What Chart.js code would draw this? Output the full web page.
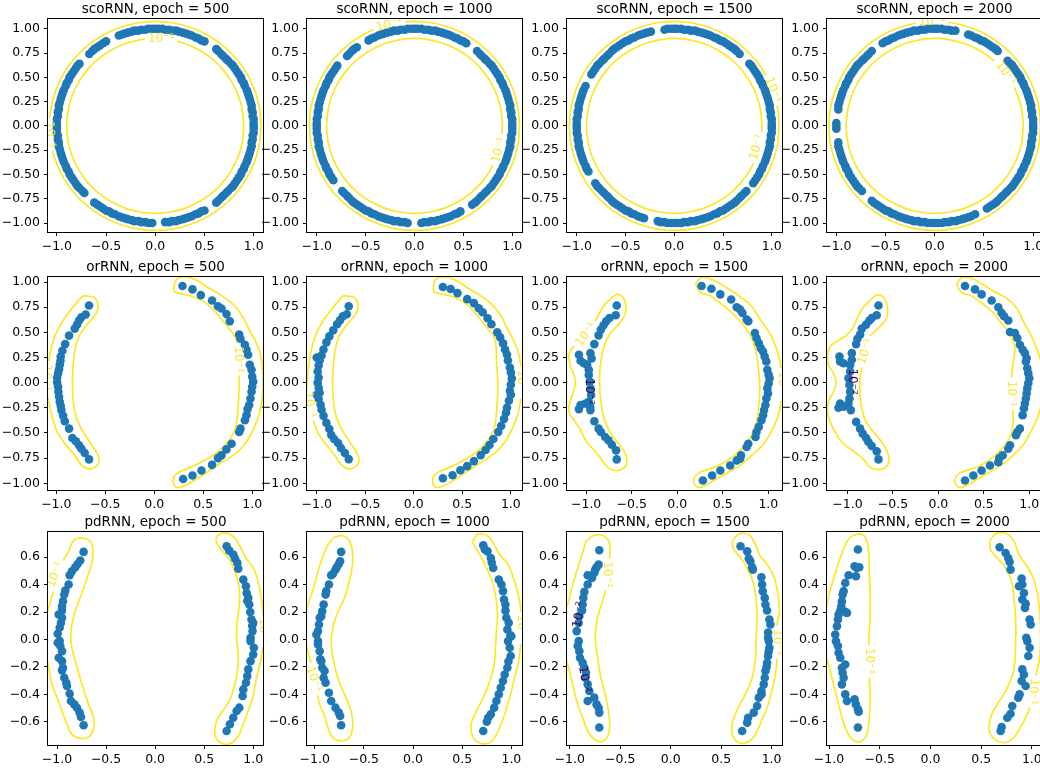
<!DOCTYPE html>
<html><head><meta charset="utf-8">
<script src="https://cdn.jsdelivr.net/npm/chart.js@4.4.1/dist/chart.umd.min.js"></script>
<style>
html,body{margin:0;padding:0;background:#fff;}
body{width:1040px;height:771px;overflow:hidden;position:relative;}
canvas{position:absolute;}
</style></head><body>
<script>
// ---------------- DATA ----------------
const MODELS = ['scoRNN','orRNN','pdRNN'];
const EPOCHS = [500,1000,1500,2000];
const X_TICKS = [-1.0,-0.5,0.0,0.5,1.0];
const Y_TICKS_RING = [-1.0,-0.75,-0.5,-0.25,0.0,0.25,0.5,0.75,1.0];
const Y_TICKS_PD = [-0.6,-0.4,-0.2,0.0,0.2,0.4,0.6];

// scoRNN hidden states (x, y)
const SCO_500 = [[1.00,0.00],[1.00,0.03],[1.00,0.07],[0.99,0.10],[0.99,0.14],[0.98,0.17],[0.98,0.21],[0.97,0.24],[0.96,0.28],[0.95,0.31],[0.94,0.34],[0.93,0.37],[0.91,0.41],[0.90,0.44],[0.88,0.47],[0.87,0.50],[0.85,0.53],[0.83,0.56],[0.81,0.59],[0.79,0.62],[0.77,0.64],[0.74,0.67],[0.72,0.69],[0.69,0.72],[0.67,0.74],[0.64,0.77],[0.62,0.79],
 [0.50,0.87],[0.47,0.88],[0.44,0.90],[0.41,0.91],[0.37,0.93],[0.34,0.94],[0.31,0.95],[0.28,0.96],[0.24,0.97],[0.21,0.98],[0.17,0.98],[0.14,0.99],[0.10,0.99],[0.07,1.00],[0.03,1.00],[0.00,1.00],[-0.03,1.00],[-0.07,1.00],[-0.10,0.99],[-0.14,0.99],[-0.17,0.98],[-0.21,0.98],[-0.24,0.97],[-0.28,0.96],[-0.31,0.95],[-0.34,0.94],[-0.37,0.93],
 [-0.50,0.87],[-0.53,0.85],[-0.56,0.83],[-0.59,0.81],[-0.62,0.79],[-0.64,0.77],[-0.67,0.74],
 [-0.77,0.64],[-0.79,0.62],[-0.81,0.59],[-0.83,0.56],[-0.85,0.53],[-0.87,0.50],[-0.88,0.47],[-0.90,0.44],[-0.91,0.41],[-0.93,0.37],[-0.94,0.34],[-0.95,0.31],[-0.96,0.28],[-0.97,0.24],[-0.98,0.21],[-0.98,0.17],[-0.99,0.14],[-0.99,0.10],[-1.00,0.07],[-1.00,0.03],[-1.00,0.00],[-1.00,-0.03],[-1.00,-0.07],[-0.99,-0.10],[-0.99,-0.14],[-0.98,-0.17],[-0.98,-0.21],[-0.97,-0.24],[-0.96,-0.28],[-0.95,-0.31],[-0.94,-0.34],[-0.93,-0.37],[-0.91,-0.41],[-0.90,-0.44],[-0.88,-0.47],[-0.87,-0.50],[-0.85,-0.53],[-0.83,-0.56],[-0.81,-0.59],[-0.79,-0.62],[-0.77,-0.64],[-0.74,-0.67],[-0.72,-0.69],
 [-0.62,-0.79],[-0.59,-0.81],[-0.56,-0.83],[-0.53,-0.85],[-0.50,-0.87],[-0.47,-0.88],[-0.44,-0.90],[-0.41,-0.91],[-0.37,-0.93],[-0.34,-0.94],[-0.31,-0.95],[-0.28,-0.96],[-0.24,-0.97],[-0.21,-0.98],[-0.17,-0.98],[-0.14,-0.99],[-0.10,-0.99],[-0.07,-1.00],[-0.03,-1.00],
 [0.10,-0.99],[0.14,-0.99],[0.17,-0.98],[0.21,-0.98],[0.24,-0.97],[0.28,-0.96],[0.31,-0.95],[0.34,-0.94],[0.37,-0.93],[0.41,-0.91],[0.44,-0.90],[0.47,-0.88],[0.50,-0.87],
 [0.62,-0.79],[0.64,-0.77],[0.67,-0.74],[0.69,-0.72],[0.72,-0.69],[0.74,-0.67],[0.77,-0.64],[0.79,-0.62],[0.81,-0.59],[0.83,-0.56],[0.85,-0.53],[0.87,-0.50],[0.88,-0.47],[0.90,-0.44],[0.91,-0.41],[0.93,-0.37],[0.94,-0.34],[0.95,-0.31],[0.96,-0.28],[0.97,-0.24],[0.98,-0.21],[0.98,-0.17],[0.99,-0.14],[0.99,-0.10],[1.00,-0.07],[1.00,-0.03]];
const SCO_1000 = [[1.00,0.00],[1.00,0.03],[1.00,0.07],[0.99,0.10],[0.99,0.14],[0.98,0.17],[0.98,0.21],[0.97,0.24],[0.96,0.28],[0.95,0.31],[0.94,0.34],[0.93,0.37],[0.91,0.41],[0.90,0.44],[0.88,0.47],[0.87,0.50],[0.85,0.53],[0.83,0.56],[0.81,0.59],[0.79,0.62],[0.77,0.64],[0.74,0.67],[0.72,0.69],[0.69,0.72],[0.67,0.74],[0.64,0.77],
 [0.53,0.85],[0.50,0.87],[0.47,0.88],[0.44,0.90],[0.41,0.91],[0.37,0.93],[0.34,0.94],[0.31,0.95],[0.28,0.96],[0.24,0.97],[0.21,0.98],[0.17,0.98],[0.14,0.99],[0.10,0.99],[0.07,1.00],[0.03,1.00],[0.00,1.00],[-0.03,1.00],[-0.07,1.00],[-0.10,0.99],[-0.14,0.99],[-0.17,0.98],[-0.21,0.98],[-0.24,0.97],[-0.28,0.96],[-0.31,0.95],[-0.34,0.94],[-0.37,0.93],[-0.41,0.91],[-0.44,0.90],[-0.47,0.88],
 [-0.59,0.81],[-0.62,0.79],[-0.64,0.77],[-0.67,0.74],[-0.69,0.72],
 [-0.79,0.62],[-0.81,0.59],[-0.83,0.56],[-0.85,0.53],[-0.87,0.50],[-0.88,0.47],[-0.90,0.44],[-0.91,0.41],[-0.93,0.37],[-0.94,0.34],[-0.95,0.31],[-0.96,0.28],[-0.97,0.24],[-0.98,0.21],[-0.98,0.17],[-0.99,0.14],[-0.99,0.10],[-1.00,0.07],[-1.00,0.03],[-1.00,0.00],[-1.00,-0.03],[-1.00,-0.07],[-0.99,-0.10],[-0.99,-0.14],[-0.98,-0.17],[-0.98,-0.21],[-0.97,-0.24],[-0.96,-0.28],[-0.95,-0.31],[-0.94,-0.34],[-0.93,-0.37],[-0.91,-0.41],[-0.90,-0.44],[-0.88,-0.47],[-0.87,-0.50],[-0.85,-0.53],[-0.83,-0.56],
 [-0.74,-0.67],[-0.72,-0.69],[-0.69,-0.72],[-0.67,-0.74],[-0.64,-0.77],[-0.62,-0.79],[-0.59,-0.81],[-0.56,-0.83],[-0.53,-0.85],[-0.50,-0.87],[-0.47,-0.88],[-0.44,-0.90],[-0.41,-0.91],[-0.37,-0.93],[-0.34,-0.94],[-0.31,-0.95],[-0.28,-0.96],[-0.24,-0.97],[-0.21,-0.98],[-0.17,-0.98],[-0.14,-0.99],[-0.10,-0.99],[-0.07,-1.00],
 [0.07,-1.00],[0.10,-0.99],[0.14,-0.99],[0.17,-0.98],[0.21,-0.98],[0.24,-0.97],[0.28,-0.96],[0.31,-0.95],[0.34,-0.94],[0.37,-0.93],[0.41,-0.91],[0.44,-0.90],[0.47,-0.88],
 [0.59,-0.81],[0.62,-0.79],[0.64,-0.77],[0.67,-0.74],[0.69,-0.72],[0.72,-0.69],[0.74,-0.67],[0.77,-0.64],[0.79,-0.62],[0.81,-0.59],[0.83,-0.56],[0.85,-0.53],[0.87,-0.50],[0.88,-0.47],[0.90,-0.44],[0.91,-0.41],[0.93,-0.37],[0.94,-0.34],[0.95,-0.31],[0.96,-0.28],[0.97,-0.24],[0.98,-0.21],[0.98,-0.17],[0.99,-0.14],[0.99,-0.10],[1.00,-0.07],[1.00,-0.03]];
const SCO_1500 = [[1.00,0.00],[1.00,0.03],[1.00,0.07],[0.99,0.10],[0.99,0.14],[0.98,0.17],[0.98,0.21],[0.97,0.24],[0.96,0.28],[0.95,0.31],[0.94,0.34],[0.93,0.37],[0.91,0.41],[0.90,0.44],[0.88,0.47],[0.87,0.50],[0.85,0.53],[0.83,0.56],[0.81,0.59],[0.79,0.62],[0.77,0.64],
 [0.67,0.74],[0.64,0.77],[0.62,0.79],[0.59,0.81],[0.56,0.83],[0.53,0.85],[0.50,0.87],[0.47,0.88],[0.44,0.90],[0.41,0.91],[0.37,0.93],[0.34,0.94],[0.31,0.95],[0.28,0.96],[0.24,0.97],[0.21,0.98],[0.17,0.98],[0.14,0.99],[0.10,0.99],[0.07,1.00],[0.03,1.00],[0.00,1.00],[-0.03,1.00],[-0.07,1.00],[-0.10,0.99],
 [-0.24,0.97],[-0.28,0.96],[-0.31,0.95],[-0.34,0.94],[-0.37,0.93],[-0.41,0.91],[-0.44,0.90],[-0.47,0.88],[-0.50,0.87],[-0.53,0.85],[-0.56,0.83],[-0.59,0.81],[-0.62,0.79],[-0.64,0.77],[-0.67,0.74],[-0.69,0.72],[-0.72,0.69],[-0.74,0.67],[-0.77,0.64],[-0.79,0.62],[-0.81,0.59],[-0.83,0.56],[-0.85,0.53],
 [-0.91,0.41],[-0.93,0.37],[-0.94,0.34],[-0.95,0.31],[-0.96,0.28],[-0.97,0.24],[-0.98,0.21],[-0.98,0.17],[-0.99,0.14],[-0.99,0.10],[-1.00,0.07],[-1.00,0.03],[-1.00,0.00],[-1.00,-0.03],[-1.00,-0.07],[-0.99,-0.10],[-0.99,-0.14],[-0.98,-0.17],[-0.98,-0.21],[-0.97,-0.24],[-0.96,-0.28],[-0.95,-0.31],[-0.94,-0.34],[-0.93,-0.37],[-0.91,-0.41],[-0.90,-0.44],[-0.88,-0.47],
 [-0.81,-0.59],[-0.79,-0.62],[-0.77,-0.64],[-0.74,-0.67],[-0.72,-0.69],[-0.69,-0.72],[-0.67,-0.74],[-0.64,-0.77],[-0.62,-0.79],[-0.59,-0.81],[-0.56,-0.83],[-0.53,-0.85],[-0.50,-0.87],[-0.47,-0.88],[-0.44,-0.90],[-0.41,-0.91],[-0.37,-0.93],[-0.34,-0.94],[-0.31,-0.95],
 [-0.17,-0.98],[-0.14,-0.99],[-0.10,-0.99],[-0.07,-1.00],[-0.03,-1.00],[0.00,-1.00],[0.03,-1.00],[0.07,-1.00],[0.10,-0.99],[0.14,-0.99],[0.17,-0.98],[0.21,-0.98],[0.24,-0.97],[0.28,-0.96],[0.31,-0.95],[0.34,-0.94],[0.37,-0.93],[0.41,-0.91],[0.44,-0.90],[0.47,-0.88],[0.50,-0.87],[0.53,-0.85],[0.56,-0.83],[0.59,-0.81],[0.62,-0.79],[0.64,-0.77],[0.67,-0.74],[0.69,-0.72],[0.72,-0.69],[0.74,-0.67],
 [0.81,-0.59],[0.83,-0.56],[0.85,-0.53],[0.87,-0.50],[0.88,-0.47],[0.90,-0.44],[0.91,-0.41],[0.93,-0.37],[0.94,-0.34],[0.95,-0.31],[0.96,-0.28],[0.97,-0.24],[0.98,-0.21],[0.98,-0.17],[0.99,-0.14],[0.99,-0.10],[1.00,-0.07],[1.00,-0.03]];
const SCO_2000 = [[1.00,0.00],[1.00,0.03],[1.00,0.07],[0.99,0.10],[0.99,0.14],[0.98,0.17],[0.98,0.21],[0.97,0.24],[0.96,0.28],[0.95,0.31],[0.94,0.34],[0.93,0.37],[0.91,0.41],[0.90,0.44],[0.88,0.47],[0.87,0.50],[0.85,0.53],[0.83,0.56],[0.81,0.59],[0.79,0.62],[0.77,0.64],[0.74,0.67],
 [0.64,0.77],[0.62,0.79],[0.59,0.81],[0.56,0.83],[0.53,0.85],[0.50,0.87],[0.47,0.88],[0.44,0.90],[0.41,0.91],[0.37,0.93],[0.34,0.94],
 [0.21,0.98],[0.17,0.98],[0.14,0.99],[0.10,0.99],[0.07,1.00],[0.03,1.00],[0.00,1.00],[-0.03,1.00],[-0.07,1.00],[-0.10,0.99],[-0.14,0.99],[-0.17,0.98],[-0.21,0.98],[-0.24,0.97],[-0.28,0.96],[-0.31,0.95],[-0.34,0.94],[-0.37,0.93],[-0.41,0.91],[-0.44,0.90],[-0.47,0.88],[-0.50,0.87],[-0.53,0.85],
 [-0.64,0.77],[-0.67,0.74],[-0.69,0.72],[-0.72,0.69],[-0.74,0.67],[-0.77,0.64],[-0.79,0.62],[-0.81,0.59],[-0.83,0.56],[-0.85,0.53],[-0.87,0.50],[-0.88,0.47],[-0.90,0.44],[-0.91,0.41],[-0.93,0.37],[-0.94,0.34],[-0.95,0.31],[-0.96,0.28],[-0.97,0.24],[-0.98,0.21],[-0.98,0.17],
 [-1.00,0.03],[-1.00,0.00],[-1.00,-0.03],
 [-0.98,-0.17],[-0.98,-0.21],[-0.97,-0.24],[-0.96,-0.28],[-0.95,-0.31],[-0.94,-0.34],[-0.93,-0.37],[-0.91,-0.41],[-0.90,-0.44],[-0.88,-0.47],[-0.87,-0.50],[-0.85,-0.53],[-0.83,-0.56],[-0.81,-0.59],[-0.79,-0.62],[-0.77,-0.64],[-0.74,-0.67],
 [-0.64,-0.77],[-0.62,-0.79],[-0.59,-0.81],[-0.56,-0.83],[-0.53,-0.85],[-0.50,-0.87],[-0.47,-0.88],[-0.44,-0.90],[-0.41,-0.91],[-0.37,-0.93],[-0.34,-0.94],[-0.31,-0.95],[-0.28,-0.96],[-0.24,-0.97],[-0.21,-0.98],[-0.17,-0.98],[-0.14,-0.99],[-0.10,-0.99],[-0.07,-1.00],[-0.03,-1.00],[0.00,-1.00],[0.03,-1.00],[0.07,-1.00],[0.10,-0.99],[0.14,-0.99],[0.17,-0.98],[0.21,-0.98],[0.24,-0.97],[0.28,-0.96],[0.31,-0.95],[0.34,-0.94],[0.37,-0.93],[0.41,-0.91],
 [0.53,-0.85],[0.56,-0.83],[0.59,-0.81],[0.62,-0.79],[0.64,-0.77],[0.67,-0.74],[0.69,-0.72],[0.72,-0.69],[0.74,-0.67],[0.77,-0.64],[0.79,-0.62],[0.81,-0.59],[0.83,-0.56],[0.85,-0.53],[0.87,-0.50],[0.88,-0.47],[0.90,-0.44],[0.91,-0.41],[0.93,-0.37],[0.94,-0.34],[0.95,-0.31],[0.96,-0.28],[0.97,-0.24],[0.98,-0.21],[0.98,-0.17],[0.99,-0.14],[0.99,-0.10],[1.00,-0.07],[1.00,-0.03]];

// orRNN hidden states
const OR_500 = [[-0.666,0.767],[-0.70,0.677],[-0.744,0.65],[-0.768,0.617],[-0.788,0.577],[-0.812,0.537],[-0.87,0.467],[-0.91,0.383],[-0.938,0.317],[-0.955,0.26],[-0.958,0.217],[-0.965,0.177],[-0.972,0.133],[-0.982,0.093],[-0.992,0.05],[-0.992,0.003],[-0.982,-0.04],[-0.979,-0.09],[-0.972,-0.14],[-0.965,-0.19],[-0.955,-0.23],[-0.948,-0.273],[-0.93,-0.33],[-0.914,-0.383],[-0.87,-0.457],[-0.836,-0.55],[-0.80,-0.583],[-0.768,-0.623],[-0.744,-0.657],[-0.71,-0.70],[-0.666,-0.763],
 [0.288,0.96],[0.39,0.927],[0.475,0.87],[0.59,0.817],[0.65,0.76],[0.686,0.737],[0.737,0.683],[0.771,0.61],[0.867,0.477],[0.88,0.437],[0.925,0.377],[0.942,0.327],[0.958,0.277],[0.975,0.177],[0.993,0.127],[1.00,0.06],[1.01,0.01],[1.00,-0.04],[0.993,-0.09],[0.982,-0.157],[0.969,-0.223],[0.952,-0.263],[0.942,-0.323],[0.925,-0.373],[0.88,-0.457],[0.867,-0.49],[0.789,-0.607],[0.737,-0.663],[0.686,-0.723],[0.65,-0.75],[0.59,-0.817],[0.482,-0.873],[0.39,-0.923],[0.295,-0.957]];
const OR_1000 = [[-0.67,0.76],[-0.69,0.68],[-0.73,0.66],[-0.76,0.62],[-0.79,0.58],[-0.83,0.52],[-0.87,0.46],[-0.90,0.40],[-0.93,0.33],[-0.95,0.27],[-0.97,0.22],[-1.00,0.25],[-0.98,0.17],[-0.99,0.11],[-0.98,0.05],[-0.99,0.00],[-0.98,-0.05],[-0.97,-0.10],[-1.00,-0.12],[-0.98,-0.16],[-0.96,-0.22],[-0.95,-0.27],[-0.93,-0.33],[-0.90,-0.40],[-0.87,-0.46],[-0.85,-0.52],[-0.82,-0.56],[-0.78,-0.60],[-0.75,-0.65],[-0.71,-0.70],[-0.67,-0.76],
 [0.30,0.95],[0.38,0.93],[0.45,0.89],[0.55,0.83],[0.62,0.79],[0.67,0.74],[0.71,0.70],[0.76,0.64],[0.80,0.58],[0.86,0.50],[0.89,0.45],[0.92,0.39],[0.94,0.33],[0.96,0.28],[0.97,0.22],[0.99,0.15],[1.00,0.10],[1.01,0.04],[1.00,-0.02],[0.99,-0.08],[1.00,-0.12],[0.98,-0.18],[0.96,-0.25],[0.95,-0.30],[0.93,-0.36],[0.90,-0.43],[0.87,-0.49],[0.82,-0.56],[0.78,-0.62],[0.74,-0.67],[0.69,-0.72],[0.62,-0.78],[0.55,-0.83],[0.48,-0.87],[0.40,-0.92],[0.30,-0.95]];
const OR_1500 = [[-0.664,0.767],[-0.675,0.67],[-0.744,0.643],[-0.78,0.61],[-0.809,0.57],[-0.838,0.527],[-0.863,0.47],[-0.91,0.383],[-0.953,0.293],[-0.94,0.24],[-1.079,0.277],[-1.061,0.217],[-1.025,0.193],[-0.989,0.177],[-0.971,0.127],[-0.971,0.077],[-0.96,0.01],[-0.953,-0.057],[-0.946,-0.123],[-0.971,-0.19],[-1.007,-0.207],[-1.061,-0.223],[-1.079,-0.263],[-0.953,-0.273],[-0.955,-0.24],[-0.91,-0.383],[-0.863,-0.457],[-0.838,-0.49],[-0.791,-0.54],[-0.755,-0.573],[-0.718,-0.617],[-0.671,-0.673],[-0.664,-0.763],
 [0.267,0.96],[0.375,0.933],[0.473,0.877],[0.592,0.827],[0.653,0.75],[0.69,0.727],[0.715,0.693],[0.762,0.627],[0.78,0.61],[0.852,0.493],[0.87,0.443],[0.895,0.393],[0.917,0.343],[0.942,0.31],[0.96,0.26],[0.978,0.21],[0.989,0.127],[1.004,0.077],[1.014,0.043],[1.004,-0.007],[0.989,-0.057],[0.996,-0.107],[0.978,-0.157],[0.968,-0.223],[0.953,-0.273],[0.942,-0.323],[0.924,-0.373],[0.895,-0.44],[0.87,-0.49],[0.859,-0.54],[0.78,-0.607],[0.762,-0.64],[0.70,-0.723],[0.69,-0.757],[0.653,-0.773],[0.581,-0.823],[0.473,-0.873],[0.383,-0.923],[0.282,-0.973]];
const OR_2000 = [[-0.659,0.767],[-0.678,0.67],[-0.733,0.643],[-0.758,0.617],[-0.795,0.577],[-0.842,0.537],[-0.861,0.477],[-0.89,0.437],[-0.905,0.383],[-0.952,0.293],[-0.952,0.227],[-1.088,0.26],[-1.081,0.21],[-1.044,0.193],[-0.971,0.177],[-0.971,0.11],[-0.989,0.043],[-0.978,-0.023],[-0.971,-0.09],[-0.978,-0.157],[-0.989,-0.207],[-1.081,-0.207],[-1.099,-0.25],[-1.044,-0.24],[-0.963,-0.273],[-0.905,-0.39],[-0.861,-0.457],[-0.832,-0.507],[-0.795,-0.55],[-0.769,-0.59],[-0.733,-0.63],[-0.678,-0.683],[-0.659,-0.763],
 [0.293,0.96],[0.403,0.927],[0.476,0.877],[0.586,0.817],[0.659,0.75],[0.696,0.693],[0.722,0.66],[0.769,0.617],[0.788,0.503],[0.842,0.493],[0.868,0.443],[0.897,0.377],[0.927,0.327],[0.952,0.293],[0.971,0.243],[0.963,0.21],[0.978,0.143],[0.989,0.093],[1.0,0.043],[0.989,-0.007],[0.978,-0.057],[0.971,-0.107],[0.963,-0.157],[0.952,-0.207],[0.941,-0.257],[0.927,-0.323],[0.897,-0.457],[0.868,-0.49],[0.853,-0.523],[0.788,-0.623],[0.769,-0.657],[0.707,-0.723],[0.67,-0.75],[0.659,-0.79],[0.568,-0.823],[0.476,-0.873],[0.385,-0.923],[0.293,-0.973]];

// pdRNN hidden states
const PD_500 = [[-0.729,0.638],[-0.763,0.575],[-0.79,0.55],[-0.814,0.526],[-0.848,0.497],[-0.871,0.468],[-0.882,0.40],[-0.916,0.356],[-0.926,0.327],[-0.939,0.279],[-0.949,0.242],[-0.95,0.21],[-0.983,0.182],[-0.949,0.158],[-0.96,0.121],[-0.973,0.085],[-0.993,0.041],[-0.973,-0.012],[-0.993,-0.024],[-0.966,-0.048],[-0.949,-0.085],[-0.983,-0.133],[-0.949,-0.158],[-0.939,-0.206],[-0.949,-0.225],[-0.926,-0.279],[-0.905,-0.315],[-0.899,-0.339],[-0.871,-0.395],[-0.858,-0.448],[-0.824,-0.473],[-0.797,-0.497],[-0.77,-0.533],[-0.756,-0.565],[-0.729,-0.625],
 [0.729,0.679],[0.756,0.647],[0.797,0.618],[0.814,0.589],[0.838,0.558],[0.848,0.516],[0.899,0.436],[0.926,0.388],[0.933,0.339],[0.95,0.303],[0.94,0.28],[0.96,0.255],[0.97,0.20],[0.983,0.145],[1.0,0.121],[0.99,0.10],[0.993,0.061],[0.973,0.012],[0.973,-0.012],[1.007,-0.061],[1.0,-0.109],[0.973,-0.158],[0.95,-0.218],[0.939,-0.267],[0.926,-0.315],[0.899,-0.364],[0.892,-0.412],[0.858,-0.497],[0.831,-0.521],[0.797,-0.57],[0.763,-0.618],[0.729,-0.667]];
const PD_1000 = [[-0.731,0.638],[-0.741,0.570],[-0.755,0.550],[-0.775,0.526],[-0.788,0.509],[-0.815,0.478],[-0.832,0.468],[-0.855,0.40],[-0.882,0.352],[-0.889,0.327],[-0.909,0.255],[-0.923,0.206],[-0.933,0.17],[-0.949,0.158],[-0.956,0.109],[-0.966,0.061],[-0.983,0.036],[-0.966,-0.012],[-0.966,-0.036],[-0.949,-0.085],[-0.943,-0.145],[-0.933,-0.158],[-0.923,-0.206],[-0.899,-0.23],[-0.909,-0.279],[-0.889,-0.315],[-0.855,-0.388],[-0.832,-0.448],[-0.788,-0.497],[-0.755,-0.533],[-0.741,-0.558],[-0.731,-0.625],
 [0.714,0.686],[0.73,0.655],[0.757,0.642],[0.791,0.594],[0.80,0.56],[0.815,0.521],[0.872,0.436],[0.899,0.40],[0.915,0.352],[0.925,0.291],[0.939,0.255],[0.94,0.21],[0.949,0.158],[0.973,0.121],[0.959,0.073],[0.99,0.03],[0.999,0.024],[0.966,-0.012],[0.983,-0.061],[0.993,-0.121],[0.97,-0.16],[0.959,-0.206],[0.932,-0.255],[0.915,-0.303],[0.892,-0.352],[0.872,-0.40],[0.848,-0.448],[0.825,-0.497],[0.791,-0.545],[0.764,-0.57],[0.75,-0.60],[0.714,-0.667]];
const PD_1500 = [[-0.708,0.65],[-0.715,0.545],[-0.735,0.526],[-0.748,0.509],[-0.758,0.485],[-0.823,0.468],[-0.781,0.448],[-0.823,0.40],[-0.856,0.347],[-0.866,0.303],[-0.873,0.255],[-0.879,0.211],[-0.906,0.17],[-0.912,0.121],[-0.932,0.061],[-0.912,-0.012],[-0.922,-0.048],[-0.906,-0.085],[-0.899,-0.133],[-0.873,-0.17],[-0.856,-0.206],[-0.84,-0.242],[-0.847,-0.279],[-0.823,-0.327],[-0.807,-0.376],[-0.823,-0.448],[-0.758,-0.424],[-0.735,-0.473],[-0.715,-0.497],[-0.708,-0.533],[-0.708,-0.642],
 [0.692,0.679],[0.758,0.642],[0.774,0.589],[0.79,0.57],[0.807,0.526],[0.814,0.509],[0.899,0.453],[0.906,0.40],[0.912,0.352],[0.932,0.303],[0.939,0.255],[0.955,0.211],[0.978,0.145],[0.988,0.109],[0.965,0.05],[0.965,0.012],[0.972,-0.012],[0.978,-0.061],[0.97,-0.09],[0.965,-0.12],[0.955,-0.17],[0.95,-0.20],[0.939,-0.23],[0.932,-0.279],[0.922,-0.327],[0.899,-0.376],[0.90,-0.40],[0.873,-0.424],[0.856,-0.485],[0.823,-0.533],[0.767,-0.57],[0.758,-0.606],[0.708,-0.667]];
const PD_2000 = [[-0.715,0.655],[-0.748,0.533],[-0.725,0.521],[-0.702,0.526],[-0.735,0.461],[-0.807,0.468],[-0.84,0.412],[-0.856,0.352],[-0.866,0.327],[-0.873,0.279],[-0.879,0.242],[-0.889,0.211],[-0.84,0.201],[-0.823,0.194],[-0.906,0.182],[-0.912,0.145],[-0.922,0.097],[-0.939,0.036],[-0.932,-0.012],[-0.912,-0.048],[-0.906,-0.097],[-0.889,-0.133],[-0.84,-0.182],[-0.873,-0.206],[-0.866,-0.242],[-0.856,-0.279],[-0.873,-0.327],[-0.84,-0.40],[-0.823,-0.448],[-0.748,-0.436],[-0.735,-0.473],[-0.715,-0.509],[-0.708,-0.526],[-0.715,-0.642],
 [0.682,0.672],[0.741,0.63],[0.767,0.594],[0.781,0.565],[0.79,0.509],[0.899,0.444],[0.906,0.40],[0.873,0.388],[0.922,0.339],[0.906,0.291],[0.939,0.259],[0.932,0.23],[0.978,0.145],[0.988,0.109],[0.945,0.012],[0.955,-0.012],[0.978,-0.061],[0.965,-0.121],[0.906,-0.218],[0.922,-0.255],[0.899,-0.303],[0.939,-0.339],[0.879,-0.40],[0.866,-0.424],[0.807,-0.485],[0.79,-0.541],[0.758,-0.57],[0.702,-0.638],[0.692,-0.667]];

// 10^-1 contour lines (x, y)
const RING_OUTER = [[1.075,0],[1.059,0.187],[1.010,0.368],[0.931,0.538],[0.824,0.691],[0.691,0.824],[0.538,0.931],[0.368,1.010],[0.187,1.059],[0,1.075],[-0.187,1.059],[-0.368,1.010],[-0.538,0.931],[-0.691,0.824],[-0.824,0.691],[-0.931,0.538],[-1.010,0.368],[-1.059,0.187],[-1.075,0],[-1.059,-0.187],[-1.010,-0.368],[-0.931,-0.538],[-0.824,-0.691],[-0.691,-0.824],[-0.538,-0.931],[-0.368,-1.010],[-0.187,-1.059],[0,-1.075],[0.187,-1.059],[0.368,-1.010],[0.538,-0.931],[0.691,-0.824],[0.824,-0.691],[0.931,-0.538],[1.010,-0.368],[1.059,-0.187],[1.075,0]];
const RING_INNER = [[0.9,0],[0.886,0.156],[0.846,0.308],[0.779,0.45],[0.689,0.579],[0.579,0.689],[0.45,0.779],[0.308,0.846],[0.156,0.886],[0,0.9],[-0.156,0.886],[-0.308,0.846],[-0.45,0.779],[-0.579,0.689],[-0.689,0.579],[-0.779,0.45],[-0.846,0.308],[-0.886,0.156],[-0.9,0],[-0.886,-0.156],[-0.846,-0.308],[-0.779,-0.45],[-0.689,-0.579],[-0.579,-0.689],[-0.45,-0.779],[-0.308,-0.846],[-0.156,-0.886],[0,-0.9],[0.156,-0.886],[0.308,-0.846],[0.45,-0.779],[0.579,-0.689],[0.689,-0.579],[0.779,-0.45],[0.846,-0.308],[0.886,-0.156],[0.9,0]];

const OR_LEFT_A = [[-0.676,0.86],[-0.608,0.843],[-0.574,0.777],[-0.591,0.693],[-0.659,0.61],[-0.727,0.527],[-0.778,0.443],[-0.812,0.31],[-0.829,0.177],[-0.836,0.01],[-0.829,-0.157],[-0.812,-0.29],[-0.778,-0.39],[-0.727,-0.49],[-0.659,-0.59],[-0.591,-0.69],[-0.564,-0.763],[-0.591,-0.83],[-0.666,-0.857],[-0.744,-0.817],[-0.812,-0.723],[-0.897,-0.623],[-0.982,-0.507],[-1.033,-0.373],[-1.067,-0.24],[-1.10,-0.057],[-1.085,0.143],[-1.06,0.31],[-1.016,0.46],[-0.948,0.593],[-0.863,0.71],[-0.778,0.81],[-0.727,0.86],[-0.676,0.86]];
const OR_RIGHT_A = [[0.20,0.943],[0.226,1.027],[0.329,1.05],[0.448,1.01],[0.55,0.943],[0.669,0.877],[0.805,0.777],[0.90,0.66],[0.969,0.527],[1.037,0.403],[1.084,0.277],[1.11,0.077],[1.105,-0.123],[1.078,-0.29],[1.037,-0.407],[0.982,-0.523],[0.90,-0.64],[0.805,-0.723],[0.669,-0.807],[0.55,-0.883],[0.431,-0.957],[0.312,-1.023],[0.226,-1.04],[0.193,-0.973],[0.226,-0.907],[0.329,-0.857],[0.448,-0.807],[0.567,-0.74],[0.669,-0.673],[0.764,-0.573],[0.822,-0.473],[0.846,-0.357],[0.86,-0.19],[0.867,-0.023],[0.86,0.093],[0.852,0.23],[0.846,0.377],[0.822,0.46],[0.771,0.527],[0.703,0.61],[0.601,0.727],[0.499,0.81],[0.38,0.86],[0.278,0.883],[0.209,0.903],[0.20,0.943]];
const OR_LEFT_1500 = [[-0.736,0.827],[-0.664,0.877],[-0.592,0.843],[-0.563,0.743],[-0.592,0.643],[-0.664,0.56],[-0.744,0.477],[-0.809,0.343],[-0.838,0.21],[-0.852,0.077],[-0.845,-0.123],[-0.827,-0.257],[-0.791,-0.39],[-0.718,-0.523],[-0.628,-0.623],[-0.563,-0.723],[-0.563,-0.823],[-0.646,-0.873],[-0.736,-0.857],[-0.809,-0.79],[-0.863,-0.723],[-0.935,-0.65],[-1.007,-0.573],[-1.069,-0.457],[-1.134,-0.373],[-1.188,-0.29],[-1.177,-0.19],[-1.134,-0.073],[-1.116,0.0],[-1.134,0.077],[-1.177,0.177],[-1.188,0.277],[-1.152,0.343],[-1.079,0.383],[-1.0,0.477],[-0.924,0.57],[-0.863,0.677],[-0.801,0.77],[-0.736,0.827]];
const OR_RIGHT_1500 = [[0.202,0.977],[0.256,1.043],[0.347,1.037],[0.455,0.993],[0.599,0.91],[0.708,0.843],[0.816,0.76],[0.924,0.61],[1.025,0.477],[1.087,0.343],[1.134,0.177],[1.15,-0.02],[1.134,-0.223],[1.097,-0.357],[1.032,-0.49],[0.942,-0.617],[0.816,-0.723],[0.70,-0.817],[0.563,-0.89],[0.419,-0.963],[0.31,-1.023],[0.22,-1.04],[0.184,-0.963],[0.238,-0.897],[0.365,-0.857],[0.491,-0.807],[0.628,-0.723],[0.744,-0.623],[0.816,-0.523],[0.87,-0.39],[0.895,-0.223],[0.906,-0.057],[0.895,0.11],[0.87,0.277],[0.834,0.403],[0.78,0.503],[0.69,0.61],[0.581,0.71],[0.455,0.803],[0.347,0.87],[0.256,0.893],[0.202,0.977]];
const OR_LEFT_2000 = [[-0.758,0.81],[-0.678,0.87],[-0.597,0.843],[-0.56,0.743],[-0.568,0.643],[-0.623,0.577],[-0.696,0.51],[-0.769,0.443],[-0.80,0.31],[-0.832,0.193],[-0.861,0.043],[-0.861,-0.123],[-0.842,-0.257],[-0.795,-0.39],[-0.714,-0.49],[-0.623,-0.59],[-0.549,-0.723],[-0.56,-0.823],[-0.648,-0.863],[-0.751,-0.84],[-0.824,-0.763],[-0.897,-0.707],[-0.971,-0.657],[-1.062,-0.59],[-1.136,-0.49],[-1.19,-0.39],[-1.22,-0.29],[-1.209,-0.19],[-1.154,-0.09],[-1.125,0.0],[-1.154,0.093],[-1.209,0.177],[-1.22,0.277],[-1.19,0.36],[-1.117,0.41],[-1.026,0.46],[-0.952,0.527],[-0.89,0.643],[-0.832,0.743],[-0.758,0.81]];
const OR_RIGHT_2000 = [[0.20,0.977],[0.256,1.043],[0.366,1.037],[0.476,0.983],[0.604,0.91],[0.751,0.837],[0.861,0.743],[0.934,0.61],[1.015,0.477],[1.081,0.343],[1.136,0.177],[1.154,0.0],[1.136,-0.19],[1.088,-0.357],[1.015,-0.49],[0.934,-0.617],[0.824,-0.723],[0.696,-0.817],[0.56,-0.89],[0.421,-0.963],[0.311,-1.023],[0.22,-1.04],[0.183,-0.963],[0.238,-0.897],[0.366,-0.857],[0.495,-0.807],[0.623,-0.723],[0.733,-0.623],[0.795,-0.523],[0.824,-0.39],[0.817,-0.273],[0.80,-0.11],[0.806,0.06],[0.824,0.21],[0.842,0.343],[0.806,0.443],[0.751,0.527],[0.678,0.61],[0.586,0.71],[0.458,0.803],[0.348,0.87],[0.256,0.893],[0.20,0.977]];

const PD_LEFT_500 = [[-0.882,0.642],[-0.831,0.72],[-0.746,0.739],[-0.661,0.715],[-0.634,0.642],[-0.644,0.558],[-0.688,0.461],[-0.746,0.339],[-0.814,0.206],[-0.858,0.061],[-0.848,-0.061],[-0.804,-0.182],[-0.746,-0.327],[-0.678,-0.473],[-0.627,-0.57],[-0.634,-0.667],[-0.688,-0.715],[-0.763,-0.72],[-0.848,-0.691],[-0.899,-0.618],[-0.949,-0.521],[-1.0,-0.424],[-1.051,-0.327],[-1.085,-0.206],[-1.109,-0.085],[-1.109,0.061],[-1.102,0.182],[-1.075,0.255],[-1.034,0.356],[-0.99,0.48],[-0.94,0.57],[-0.882,0.642]];
const PD_RIGHT_500 = [[0.627,0.752],[0.695,0.776],[0.797,0.752],[0.865,0.679],[0.926,0.594],[1.0,0.521],[1.051,0.424],[1.085,0.279],[1.102,0.182],[1.11,0.05],[1.095,-0.085],[1.068,-0.182],[1.034,-0.279],[0.994,-0.424],[0.949,-0.521],[0.899,-0.618],[0.838,-0.715],[0.763,-0.759],[0.668,-0.752],[0.61,-0.691],[0.627,-0.594],[0.688,-0.521],[0.756,-0.448],[0.804,-0.352],[0.838,-0.23],[0.848,-0.109],[0.831,0.012],[0.838,0.133],[0.858,0.255],[0.858,0.376],[0.814,0.497],[0.756,0.582],[0.688,0.642],[0.627,0.703],[0.627,0.752]];
const PD_LEFT_1000 = [[-0.866,0.691],[-0.798,0.744],[-0.697,0.752],[-0.63,0.691],[-0.613,0.57],[-0.647,0.424],[-0.697,0.303],[-0.775,0.182],[-0.822,0.061],[-0.832,-0.036],[-0.808,-0.158],[-0.765,-0.279],[-0.697,-0.40],[-0.63,-0.521],[-0.613,-0.63],[-0.647,-0.715],[-0.731,-0.739],[-0.815,-0.715],[-0.866,-0.642],[-0.899,-0.558],[-0.949,-0.473],[-0.99,-0.33],[-1.033,-0.182],[-1.084,-0.036],[-1.09,0.182],[-1.057,0.279],[-1.01,0.376],[-0.966,0.497],[-0.923,0.594],[-0.866,0.691]];
const PD_RIGHT_1000 = [[0.603,0.715],[0.664,0.768],[0.764,0.752],[0.825,0.691],[0.882,0.618],[0.966,0.545],[1.033,0.424],[1.084,0.279],[1.10,0.182],[1.11,0.07],[1.094,-0.036],[1.074,-0.158],[1.033,-0.279],[0.983,-0.424],[0.932,-0.545],[0.865,-0.667],[0.798,-0.744],[0.697,-0.759],[0.613,-0.715],[0.59,-0.618],[0.647,-0.521],[0.714,-0.424],[0.781,-0.303],[0.825,-0.182],[0.838,-0.061],[0.848,0.061],[0.859,0.182],[0.848,0.279],[0.815,0.40],[0.764,0.497],[0.697,0.594],[0.647,0.655],[0.603,0.715]];
const PD_LEFT_1500 = [[-0.84,0.715],[-0.758,0.759],[-0.659,0.752],[-0.603,0.691],[-0.609,0.582],[-0.626,0.521],[-0.63,0.45],[-0.636,0.388],[-0.675,0.279],[-0.725,0.158],[-0.748,0.012],[-0.725,-0.133],[-0.692,-0.279],[-0.642,-0.424],[-0.609,-0.57],[-0.616,-0.691],[-0.682,-0.744],[-0.758,-0.727],[-0.823,-0.667],[-0.873,-0.57],[-0.922,-0.473],[-0.972,-0.327],[-1.011,-0.206],[-1.054,-0.085],[-1.054,0.182],[-1.011,0.279],[-0.972,0.40],[-0.922,0.521],[-0.879,0.618],[-0.84,0.715]];
const PD_RIGHT_1500 = [[0.609,0.715],[0.675,0.768],[0.774,0.764],[0.833,0.703],[0.879,0.618],[0.955,0.545],[1.021,0.461],[1.064,0.327],[1.077,0.206],[1.054,0.109],[1.05,-0.02],[1.054,-0.145],[1.038,-0.255],[0.998,-0.388],[0.955,-0.497],[0.899,-0.594],[0.84,-0.691],[0.774,-0.744],[0.675,-0.752],[0.609,-0.691],[0.616,-0.594],[0.669,-0.497],[0.741,-0.40],[0.807,-0.279],[0.84,-0.133],[0.847,0.012],[0.856,0.158],[0.847,0.279],[0.823,0.40],[0.774,0.497],[0.692,0.594],[0.626,0.655],[0.609,0.715]];
const PD_LEFT_2000 = [[-0.823,0.715],[-0.758,0.759],[-0.659,0.759],[-0.616,0.679],[-0.603,0.497],[-0.593,0.255],[-0.603,0.061],[-0.609,-0.048],[-0.606,-0.16],[-0.603,-0.267],[-0.593,-0.424],[-0.603,-0.57],[-0.626,-0.691],[-0.692,-0.744],[-0.774,-0.727],[-0.84,-0.642],[-0.889,-0.521],[-0.939,-0.376],[-0.988,-0.23],[-1.038,-0.085],[-1.044,0.109],[-1.021,0.255],[-0.972,0.40],[-0.912,0.545],[-0.866,0.642],[-0.823,0.715]];
const PD_RIGHT_2000 = [[0.583,0.715],[0.642,0.768],[0.741,0.776],[0.823,0.715],[0.873,0.618],[0.945,0.541],[1.011,0.453],[1.054,0.339],[1.077,0.206],[1.087,0.012],[1.077,-0.133],[1.044,-0.255],[1.01,-0.38],[0.978,-0.497],[0.932,-0.582],[0.866,-0.667],[0.807,-0.727],[0.735,-0.752],[0.649,-0.735],[0.583,-0.672],[0.593,-0.57],[0.659,-0.473],[0.741,-0.376],[0.807,-0.267],[0.833,-0.158],[0.84,-0.012],[0.84,0.158],[0.823,0.303],[0.80,0.424],[0.741,0.521],[0.659,0.594],[0.593,0.655],[0.583,0.715]];

// contour labels: [x, y, rotation deg, exponent]
const LAB_SCO_500 = [[0.06,0.90,0,1],[-1.07,-0.09,85,1]];
const LAB_SCO_1000 = [[-0.26,1.04,-14,1],[0.865,-0.25,-74,1]];
const LAB_SCO_1500 = [[1.01,0.37,70,1],[0.85,-0.22,-75,1]];
const LAB_SCO_2000 = [[-0.03,1.075,0,1],[0.72,0.54,53,1]];
const LAB_OR_500 = [[0.852,0.23,90,1],[-1.10,0.05,90,1]];
const LAB_OR_1000 = [[-1.07,-0.22,80,1],[1.11,0.0,90,1]];
const LAB_OR_1500 = [[-1.0,0.477,-55,1],[-0.965,-0.09,90,2],[1.15,-0.02,90,1]];
const LAB_OR_2000 = [[-0.80,0.31,-72,1],[-0.952,0.01,90,2],[0.80,-0.11,90,1]];
const LAB_PD_500 = [[-1.015,0.47,-68,1],[1.105,0.06,90,1]];
const LAB_PD_1000 = [[-1.01,-0.29,70,1],[1.10,0.085,90,1]];
const LAB_PD_1500 = [[-0.627,0.473,90,1],[1.05,-0.02,90,1],[-0.906,0.18,-80,2],[-0.856,-0.29,80,2]];
const LAB_PD_2000 = [[-0.606,-0.158,90,1],[1.01,-0.38,95,1]];

// ---------------- LAYOUT / STYLE ----------------
const COL_LEFT = [48,307,567,827], ROW_TOP = [19,277,532];
const PW = 215, PH = 213, YAX = 48, TITLE_H = 20, XAX = 32;
const X_LIMITS = [
 [[-1.09,1.095],[-1.10,1.10],[-1.10,1.105],[-1.095,1.09]],
 [[-1.085,1.11],[-1.10,1.115],[-1.21,1.15],[-1.225,1.14]],
 [[-1.092,1.10],[-1.078,1.108],[-1.028,1.103],[-1.02,1.10]]];
const Y_LIMITS = [[-1.092,1.10],[-1.067,1.05],[-0.769,0.783]];
const BLUE = '#1f77b4', YELLOW = '#fde725', PURPLE = '#440154';
const FONT = '"DejaVu Sans", "Liberation Sans", sans-serif';
const TICK_SIZE = 12.5, TITLE_SIZE = 13.5, LABEL_SIZE = 12;

const PANELS = [
 {r:0,c:0,pts:SCO_500,loops:[RING_OUTER,RING_INNER],lab:LAB_SCO_500},
 {r:0,c:1,pts:SCO_1000,loops:[RING_OUTER,RING_INNER],lab:LAB_SCO_1000},
 {r:0,c:2,pts:SCO_1500,loops:[RING_OUTER,RING_INNER],lab:LAB_SCO_1500},
 {r:0,c:3,pts:SCO_2000,loops:[RING_OUTER,RING_INNER],lab:LAB_SCO_2000},
 {r:1,c:0,pts:OR_500,loops:[OR_LEFT_A,OR_RIGHT_A],lab:LAB_OR_500},
 {r:1,c:1,pts:OR_1000,loops:[OR_LEFT_A,OR_RIGHT_A],lab:LAB_OR_1000},
 {r:1,c:2,pts:OR_1500,loops:[OR_LEFT_1500,OR_RIGHT_1500],lab:LAB_OR_1500},
 {r:1,c:3,pts:OR_2000,loops:[OR_LEFT_2000,OR_RIGHT_2000],lab:LAB_OR_2000},
 {r:2,c:0,pts:PD_500,loops:[PD_LEFT_500,PD_RIGHT_500],lab:LAB_PD_500},
 {r:2,c:1,pts:PD_1000,loops:[PD_LEFT_1000,PD_RIGHT_1000],lab:LAB_PD_1000},
 {r:2,c:2,pts:PD_1500,loops:[PD_LEFT_1500,PD_RIGHT_1500],lab:LAB_PD_1500},
 {r:2,c:3,pts:PD_2000,loops:[PD_LEFT_2000,PD_RIGHT_2000],lab:LAB_PD_2000}
];

const fmt = (v,d) => (v < -1e-9 ? '\u2212' : '') + Math.abs(v).toFixed(d);
const LABELS_BY_ID = {};

function drawContourLabels(chart, mode){
  const labs = LABELS_BY_ID[chart.canvas.id] || [];
  const a = chart.chartArea, xs = chart.scales.x, ys = chart.scales.y, ctx = chart.ctx;
  ctx.save();
  ctx.beginPath(); ctx.rect(a.left, a.top, a.right - a.left, a.bottom - a.top); ctx.clip();
  ctx.font = LABEL_SIZE + 'px ' + FONT;
  labs.forEach(l => {
    const text = '10\u207B' + (l[3] === 2 ? '\u00B2' : '\u00B9');
    ctx.save();
    ctx.translate(xs.getPixelForValue(l[0]), ys.getPixelForValue(l[1]));
    ctx.rotate(l[2] * Math.PI / 180);
    if (mode === 'gap') {
      if (l[3] === 1) { const w = ctx.measureText(text).width + 6; ctx.fillStyle = '#fff'; ctx.fillRect(-w/2, -5, w, 10); }
    } else {
      ctx.fillStyle = l[3] === 2 ? PURPLE : YELLOW;
      ctx.textAlign = 'center'; ctx.textBaseline = 'middle';
      ctx.fillText(text, 0, 0);
    }
    ctx.restore();
  });
  ctx.restore();
}

const framePlugin = {
  id: 'frameAndLabels',
  beforeDatasetDraw(chart, args){
    if (chart.data.datasets[args.index].isPoints) drawContourLabels(chart, 'gap');
  },
  afterDatasetsDraw(chart){
    drawContourLabels(chart, 'text');
    const a = chart.chartArea, ctx = chart.ctx;
    ctx.save(); ctx.strokeStyle = '#000'; ctx.lineWidth = 1;
    ctx.strokeRect(a.left - 0.5, a.top - 0.5, a.right - a.left + 1, a.bottom - a.top + 1);
    ctx.restore();
  }
};

PANELS.forEach((p, i) => {
  const cv = document.createElement('canvas');
  cv.id = 'panel' + i;
  cv.width = YAX + PW + YAX; cv.height = TITLE_H + PH + XAX;
  cv.style.left = (COL_LEFT[p.c] - YAX) + 'px';
  cv.style.top = (ROW_TOP[p.r] - TITLE_H) + 'px';
  cv.style.width = cv.width + 'px'; cv.style.height = cv.height + 'px';
  document.body.appendChild(cv);
  LABELS_BY_ID[cv.id] = p.lab;
  const yTicks = p.r === 2 ? Y_TICKS_PD : Y_TICKS_RING;
  const yDec = p.r === 2 ? 1 : 2;
  const datasets = p.loops.map(loop => ({
    data: loop, showLine: true, pointRadius: 0, pointHoverRadius: 0,
    borderColor: YELLOW, borderWidth: 1.7, tension: 0.4, capBezierPoints: false,
    fill: false, clip: 0, order: 1
  }));
  datasets.push({
    data: p.pts, isPoints: true, pointRadius: 4.3, pointHoverRadius: 4.3,
    pointBackgroundColor: BLUE, pointBorderWidth: 0, backgroundColor: BLUE, borderWidth: 0,
    showLine: false, clip: 0, order: 0
  });
  new Chart(cv, {
    type: 'scatter',
    data: { datasets },
    plugins: [framePlugin],
    options: {
      responsive: false, animation: false, devicePixelRatio: 1, events: [],
      layout: { padding: 0 },
      plugins: {
        legend: { display: false }, tooltip: { enabled: false },
        title: { display: true, text: MODELS[p.r] + ', epoch = ' + EPOCHS[p.c],
                 color: '#000', font: { family: FONT, size: TITLE_SIZE, weight: 'normal', lineHeight: '16px' },
                 padding: { top: 2, bottom: 2 } }
      },
      scales: {
        x: {
          type: 'linear', min: X_LIMITS[p.r][p.c][0], max: X_LIMITS[p.r][p.c][1],
          afterFit: s => { s.height = XAX; },
          afterBuildTicks: s => { s.ticks = X_TICKS.map(v => ({ value: v })); },
          ticks: { callback: v => fmt(v, 1), color: '#000', font: { family: FONT, size: TICK_SIZE },
                   padding: 3, maxRotation: 0, minRotation: 0, autoSkip: false },
          grid: { drawOnChartArea: false, drawTicks: true, tickLength: 4, color: '#000', lineWidth: 1 },
          border: { display: false }
        },
        y: {
          type: 'linear', position: 'left', min: Y_LIMITS[p.r][0], max: Y_LIMITS[p.r][1],
          afterFit: s => { s.width = YAX; },
          afterBuildTicks: s => { s.ticks = yTicks.map(v => ({ value: v })); },
          ticks: { callback: v => fmt(v, yDec), color: '#000', font: { family: FONT, size: TICK_SIZE },
                   padding: 4, autoSkip: false },
          grid: { drawOnChartArea: false, drawTicks: true, tickLength: 4, color: '#000', lineWidth: 1 },
          border: { display: false }
        },
        // empty right-hand margin so the title is centred over the plot area
        yMargin: {
          type: 'linear', position: 'right', min: Y_LIMITS[p.r][0], max: Y_LIMITS[p.r][1],
          afterFit: s => { s.width = YAX; },
          ticks: { display: false }, grid: { display: false }, border: { display: false }
        }
      }
    }
  });
});
</script>
</body></html>
